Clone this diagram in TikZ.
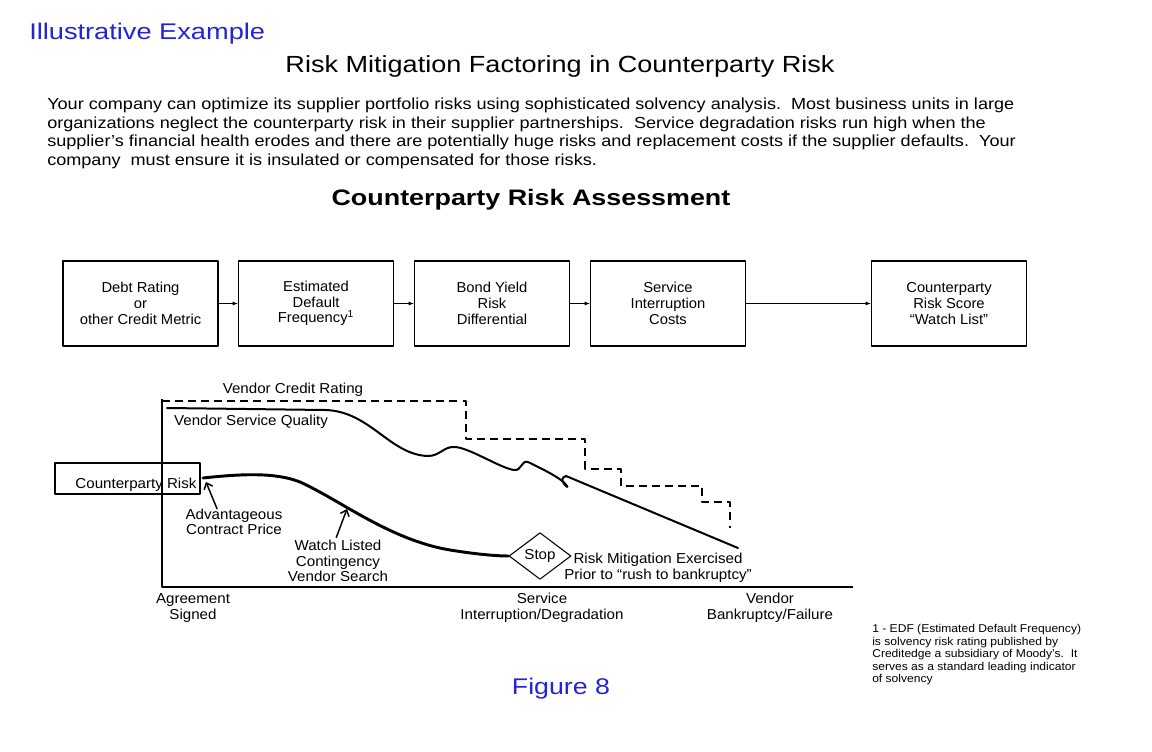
\documentclass[tikz,border=0pt]{standalone}
\usepackage{fontspec}
\setmainfont{Liberation Sans}
\usetikzlibrary{arrows.meta,shapes.geometric}
\definecolor{figblue}{RGB}{35,35,215}
\newcommand{\wide}[1]{\addfontfeature{FakeStretch=#1}}

\begin{document}
\begin{tikzpicture}[x=0.75pt, y=-0.75pt, line join=round, line cap=round,
    cbox/.style={draw, line width=0.8pt, minimum width=116.25pt, minimum height=63.75pt,
      align=center, inner sep=0pt, font=\fontsize{10.8}{11.8}\selectfont\wide{1.025}},
    lbl/.style={inner sep=0pt, align=center, font=\fontsize{10.8}{11.6}\selectfont\wide{1.05}},
    flowarrow/.style={-{Latex[length=4pt,width=3pt]}, line width=0.7pt},
    chartarrow/.style={-{Straight Barb[length=4pt,width=7pt]}, line width=1.1pt}]
    \useasboundingbox (0,0) rectangle (1152,752);

    % 見出しと本文
    \node[anchor=west, inner sep=0pt, text=figblue, font=\fontsize{17}{20}\selectfont\wide{1.2}]
      (illus) at (29,34) {Illustrative Example};
    \node[inner sep=0pt, font=\fontsize{17.5}{20}\selectfont\wide{1.16}]
      (title) at (560,66) {Risk Mitigation Factoring in Counterparty Risk};
    \node[anchor=north west, inner sep=0pt, align=left, font=\fontsize{12}{13.9}\selectfont\wide{1.13}]
      (intro) at (47,98) {Your company can optimize its supplier portfolio risks using sophisticated solvency analysis.\ \ Most business units in large\\
      organizations neglect the counterparty risk in their supplier partnerships.\ \ Service degradation risks run high when the\\
      supplier’s financial health erodes and there are potentially huge risks and replacement costs if the supplier defaults.\ \ Your\\
      company\ \ must ensure it is insulated or compensated for those risks.};
    \node[inner sep=0pt, font=\fontsize{16.8}{20}\selectfont\bfseries\wide{1.2}]
      (heading) at (531,200) {Counterparty Risk Assessment};

    % 評価の流れ
    \node[cbox] (debt) at (140.5,303.5) {Debt Rating\\or\\other Credit Metric};
    \node[cbox] (edf) at (316,303.5) {Estimated\\Default\\Frequency\textsuperscript{1}};
    \node[cbox] (bond) at (492,303.5) {Bond Yield\\Risk\\Differential};
    \node[cbox] (cost) at (668,303.5) {Service\\Interruption\\Costs};
    \node[cbox] (score) at (949,303.5) {Counterparty\\Risk Score\\“Watch List”};
    \draw[flowarrow] (debt) -- (edf);
    \draw[flowarrow] (edf) -- (bond);
    \draw[flowarrow] (bond) -- (cost);
    \draw[flowarrow] (cost) -- (score);

    % グラフの座標
    \coordinate (O) at (162,587);
    \coordinate (ytop) at (162,399);
    \coordinate (xend) at (853,587);
    \coordinate (advtip) at (206,482);
    \coordinate (watchtip) at (347,509);

    % リスクの枠
    \node[draw, line width=0.8pt, minimum width=108.75pt, minimum height=23.25pt]
      (crbox) at (127.5,478.5) {};
    \node[lbl] (crtext) at (136,485) {Counterparty Risk};

    % 信用格付け（破線）
    \draw[line width=1.1pt, dash pattern=on 6pt off 3.8pt, line cap=butt]
      (162,401) -- (466,401) -- (466,439) -- (585,439) -- (585,469) -- (621,469)
      -- (621,486) -- (702,486) -- (702,502) -- (730,502) -- (730,528);

    % サービス品質
    \draw[line width=1.5pt] (167,408) -- (325,410) .. controls (370,411) and (390,455) .. (428,456)
      .. controls (440,456) and (444,446) .. (455,447) .. controls (470,448) and (500,468) .. (514,470)
      .. controls (522,471) and (521,460) .. (528,462) .. controls (540,468) and (562,478) .. (567,486)
      .. controls (570,490) and (556,479) .. (566,476) -- (738,548);

    % 取引先リスク
    \node[draw, diamond, line width=0.8pt, minimum width=46.5pt, minimum height=35pt,
      inner sep=0pt, font=\fontsize{10.8}{11.6}\selectfont\wide{1.05}] (stop) at (540,556) {Stop};
    \draw[line width=2.2pt] (203,478) .. controls (240,474) and (275,472) .. (300,482)
      .. controls (340,500) and (390,540) .. (450,550) .. controls (475,554) and (495,556) .. (stop.west);

    % 軸
    \draw[line width=2.2pt, line cap=butt] (ytop) -- (O) -- (xend);

    % ラベル
    \node[lbl] (vcr) at (293,390) {Vendor Credit Rating};
    \node[lbl] (vsq) at (251,422) {Vendor Service Quality};
    \node[lbl] (adv) at (234,522) {Advantageous\\Contract Price};
    \node[lbl] (watch) at (338,561) {Watch Listed\\Contingency\\Vendor Search};
    \node[lbl] (riskmit) at (658,568) {Risk Mitigation Exercised\\Prior to “rush to bankruptcy”};
    \node[lbl] (agree) at (193,608) {Agreement\\Signed};
    \node[lbl] (service) at (542,608) {Service\\Interruption/Degradation};
    \node[lbl] (vendor) at (770,608) {Vendor\\Bankruptcy/Failure};
    \draw[chartarrow] ([xshift=-12.75pt]adv.north) -- (advtip);
    \draw[chartarrow, shorten <=2pt] ([xshift=-2pt]watch.north) -- (watchtip);

    % 脚注
    \node[anchor=north west, inner sep=0pt, align=left, font=\fontsize{8.5}{9.45}\selectfont\wide{1.066}]
      (note) at (872,624) {1 - EDF (Estimated Default Frequency)\\
      is solvency risk rating published\ by\\
      Creditedge a subsidiary of Moody’s.\ \ It\\
      serves as a standard leading indicator\\
      of solvency};
    \node[inner sep=0pt, text=figblue, font=\fontsize{17}{20}\selectfont\wide{1.18}]
      (fig) at (561,689) {Figure 8};

\end{tikzpicture}
\end{document}
